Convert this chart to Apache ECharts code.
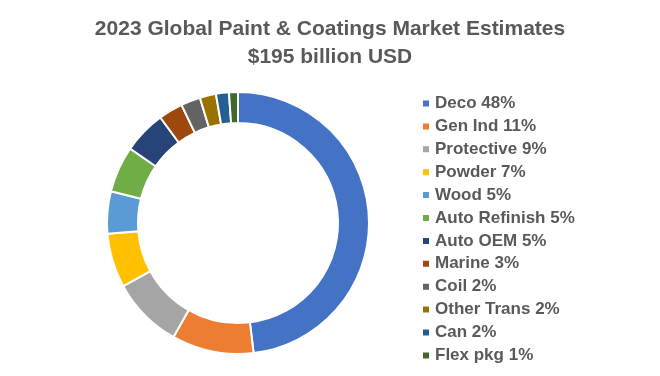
<!DOCTYPE html>
<html>
<head>
<meta charset="utf-8">
<script src="https://cdn.jsdelivr.net/npm/echarts@6/dist/echarts.min.js"></script>
<style>
  html, body { margin: 0; padding: 0; background: #fff; }
  #chart { width: 660px; height: 376px; }
</style>
</head>
<body>
<div id="chart"></div>
<script>
const categories = ['Deco 48%', 'Gen Ind 11%', 'Protective 9%', 'Powder 7%', 'Wood 5%', 'Auto Refinish 5%',
  'Auto OEM 5%', 'Marine 3%', 'Coil 2%', 'Other Trans 2%', 'Can 2%', 'Flex pkg 1%']
const shares = [48.1, 10.1, 8.8, 6.7, 5.2, 5.7, 5.3, 3.0, 2.4, 2.0, 1.6, 1.1]
const colors = ['#4472C4', '#ED7D31', '#A5A5A5', '#FFC000', '#5B9BD5', '#70AD47',
  '#264478', '#9E480E', '#636363', '#997300', '#255E91', '#43682B']

const chart = echarts.init(document.getElementById('chart'))
const font = 'Liberation Sans'

chart.setOption({
  animation: false,
  backgroundColor: '#fff',
  color: colors,
  title: {
    text: '2023 Global Paint & Coatings Market Estimates\n$195 billion USD',
    left: 'center',
    top: 10,
    textStyle: { fontFamily: font, fontSize: 21, fontWeight: 'bold', color: '#595959', lineHeight: 28 },
  },
  legend: {
    orient: 'vertical',
    left: 421,
    top: 95,
    padding: 0,
    height: 280,
    itemWidth: 8,
    itemHeight: 8,
    itemGap: 5.9,
    icon: 'rect',
    textStyle: { fontFamily: font, fontSize: 17, fontWeight: 'bold', color: '#595959', lineHeight: 16 },
    data: categories,
  },
  series: [
    {
      type: 'pie',
      center: [238, 223],
      radius: [100, 131],
      startAngle: 90,
      clockwise: true,
      label: { show: false },
      labelLine: { show: false },
      emphasis: { disabled: true },
      itemStyle: { borderColor: '#fff', borderWidth: 2 },
      data: categories.map((name, i) => ({ name, value: shares[i] })),
    },
  ],
})
</script>
</body>
</html>
